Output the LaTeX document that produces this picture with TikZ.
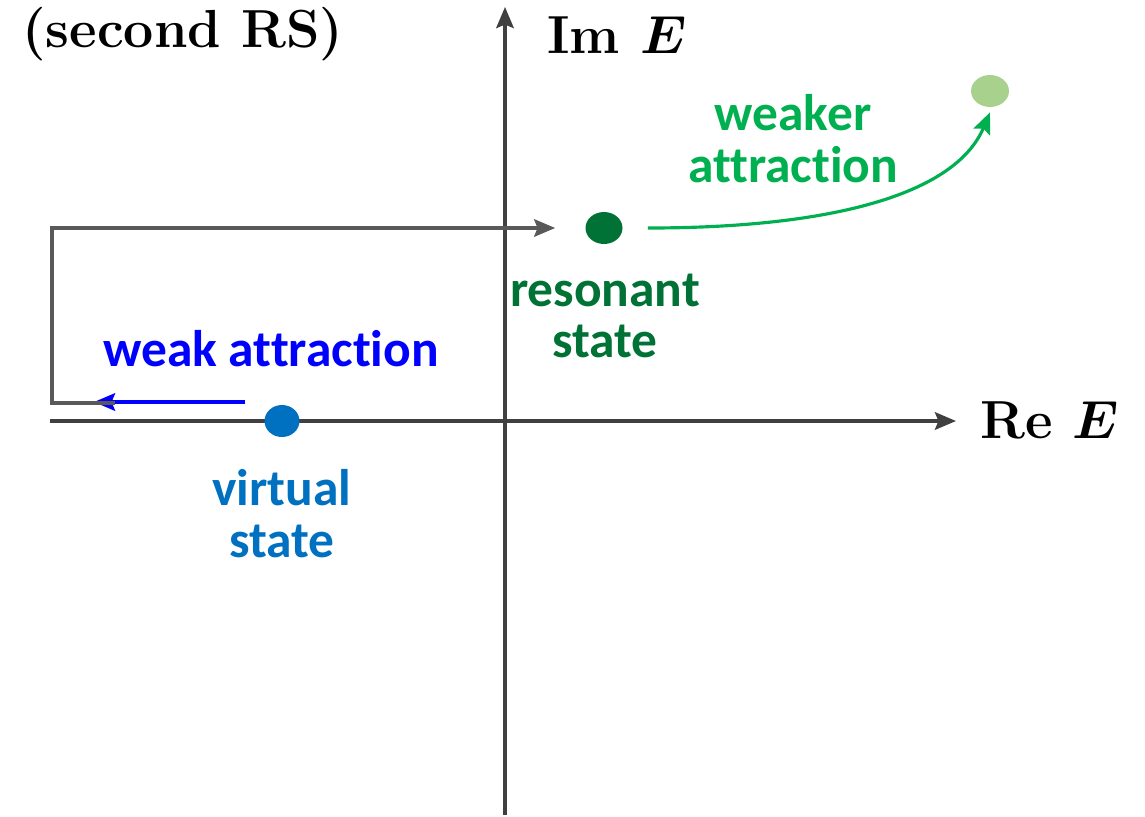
\documentclass[tikz,border=0pt]{standalone}
\usepackage{fix-cm}
\usepackage{amsmath}
\usepackage{fontspec}
\newfontfamily\calib{Carlito}[Ligatures=CommonOff]
\usetikzlibrary{arrows.meta,shapes.geometric,positioning}
\definecolor{axisgray}{RGB}{64,64,64}
\definecolor{bracketgray}{RGB}{89,89,89}
\definecolor{virtblue}{RGB}{0,112,192}
\definecolor{resgreen}{RGB}{0,114,54}
\definecolor{weakgreen}{RGB}{0,176,80}
\definecolor{palegreen}{RGB}{169,209,142}

\begin{document}
\begin{tikzpicture}[x=0.02cm,y=-0.02cm,
tip/.style = {-{Stealth[length=12pt,width=10pt,inset=2pt]}},
axis/.style = {draw=axisgray, line width=1.8pt, tip},
dot/.style = {ellipse, fill=#1, inner sep=0pt,
              minimum width=0.7cm, minimum height=0.64cm},
lbl/.style = {text=#1, font=\calib\bfseries\fontsize{29.3}{29.5}\selectfont,
              align=center, inner sep=0pt},
axlbl/.style = {font=\bfseries\fontsize{30.5}{32}\selectfont, inner sep=0pt},
                    ]
\useasboundingbox (0,0) rectangle (1145,816);
% axes
\coordinate (re0) at (50,421);
\coordinate (re1) at (956,421);
\coordinate (im0) at (505,815);
\coordinate (im1) at (505,7);
\draw[axis] (re0) -- (re1);
\draw[axis] (im0) -- (im1);
\node[axlbl, anchor=base west] (relbl) at (980,438) {Re $\boldsymbol{E}$};
\node[axlbl, anchor=base west] (imlbl) at (547,53) {Im $\boldsymbol{E}$};
\node[axlbl, anchor=base west] (sheet) at (22,47) {(second RS)};
% poles
\node[dot=virtblue] (vs) at (282,421) {};
\node[dot=resgreen, minimum width=0.74cm] (rs) at (604,228) {};
\node[dot=palegreen, minimum width=0.76cm] (ws) at (990,91) {};
\node[lbl=virtblue] (vslbl) at (282,514) {virtual\\state};
\node[lbl=resgreen] (rslbl) at (605,316) {resonant\\state};
\node[lbl=weakgreen] (wslbl) at (793,139) {weaker\\attraction};
\node[lbl=blue, anchor=base] (walbl) at (271,366) {weak attraction};
% motion of the poles
\coordinate (wa0) at (245,402);
\coordinate (wa1) at (94,402);
\draw[blue, line width=1.8pt, tip] (wa0) -- (wa1);
\coordinate (br0) at (115,403);
\coordinate (br1) at (52,403);
\draw[bracketgray, line width=1.8pt, tip]
    (br0) -- (br1) |- ([xshift=-0.6cm]rs.west);
\draw[weakgreen, line width=1.8pt, tip]
    ([xshift=0.5cm]rs.east) .. controls (830,228) and (955,195) .. ([yshift=-0.1cm]ws.south);
\end{tikzpicture}
\end{document}
